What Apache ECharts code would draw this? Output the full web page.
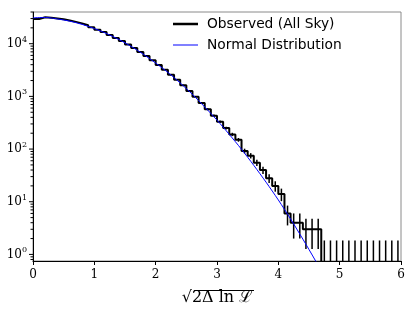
<!DOCTYPE html>
<html><head><meta charset="utf-8">
<script src="https://cdn.jsdelivr.net/npm/echarts@6/dist/echarts.min.js"></script>
<style>html,body{margin:0;padding:0;background:#fff}#c{width:415px;height:311px}</style>
</head><body><div id="c"></div>
<script>
// ---- data ----
const binWidth = 0.1;
const observedCounts = [
  29500, 31700, 31000, 30200, 29000, 27600, 26000, 24300, 22400, 20500,
  18500, 16600, 14700, 12900, 11250, 9700, 8250, 6980, 5830, 4830,
  3960, 3210, 2580, 2060, 1620, 1270, 985, 750, 570, 430,
  330, 250, 190, 150, 92, 75, 55, 40, 28, 20,
  14, 6, 4, 4, 3, 3, 3, 0, 0, 0,
  0, 0, 0, 0, 0, 0, 0, 0, 0, 0
];
const curveX = [0, 0.2, 0.4, 0.6, 0.8, 1.0, 1.2, 1.4, 1.6, 1.8, 2.0, 2.2, 2.4, 2.6, 2.8, 3.0, 3.2, 3.4, 3.6, 3.8, 4.0, 4.2, 4.4, 4.6, 4.8];
const curveY = [31000, 31500, 29500, 26800, 23300, 19400, 15600, 12000, 8900, 6300, 4300, 2850, 1800, 1090, 630, 355, 190, 99, 49, 23.5, 10.8, 4.7, 1.95, 0.78, 0.3];
const zeroUpper = 1.84;
const xTicks = [0, 1, 2, 3, 4, 5, 6];
const yMajor = [1, 10, 100, 1000, 10000];
const yMinor = [0.8, 0.9, 2,3,4,5,6,7,8,9, 20,30,40,50,60,70,80,90, 200,300,400,500,600,700,800,900,
  2000,3000,4000,5000,6000,7000,8000,9000, 20000,30000,40000];
const yMin = 0.75, yMax = 40000;

// ---- build ----
const floorVal = 1e-3;
const stepData = observedCounts.map((c, i) => [+(i * binWidth).toFixed(2), c > 0 ? c : floorVal]);
stepData.push([+(observedCounts.length * binWidth).toFixed(2), observedCounts[observedCounts.length - 1] || floorVal]);
const errData = observedCounts.map((c, i) => {
  const xc = +((i + 0.5) * binWidth).toFixed(3);
  if (c === 0) return [xc, 0, zeroUpper];
  const s = Math.sqrt(c);
  return [xc, c - s, c + s];
});
const tickData = yMajor.map(v => [v, 1]).concat(yMinor.map(v => [v, 0]));
const serif = "'DejaVu Serif', 'Liberation Serif', serif";
const sans = "'DejaVu Sans', 'Liberation Sans', sans-serif";

const chart = echarts.init(document.getElementById('c'), null, {renderer: 'canvas'});
chart.setOption({
  animation: false,
  grid: {left: 33, right: 14, top: 12, bottom: 49, show: true, borderColor: '#8a8a8a', borderWidth: 1, backgroundColor: 'transparent'},
  xAxis: {
    type: 'value', min: 0, max: 6, interval: 1,
    axisLine: {lineStyle: {color: '#000', width: 1}},
    axisTick: {show: true, length: 4, lineStyle: {color: '#000'}},
    splitLine: {show: false},
    axisLabel: {color: '#000', fontFamily: serif, fontSize: 12, margin: 8},
    name: '\u221A2\u0394 ln \u2112',
    nameLocation: 'middle', nameGap: 29,
    nameTextStyle: {color: '#000', fontFamily: serif, fontSize: 16}
  },
  yAxis: {
    type: 'log', logBase: 10, min: yMin, max: yMax,
    axisLine: {show: true, lineStyle: {color: '#000', width: 1}},
    axisTick: {show: false},
    splitLine: {show: false},
    axisLabel: {
      showMinLabel: false, showMaxLabel: false, margin: 6,
      formatter: v => {
        const n = Math.round(Math.log10(v));
        if (Math.abs(Math.log10(v) - n) > 1e-6) return '';
        return '{a|10}{b|' + n + '}';
      },
      rich: {
        a: {fontFamily: serif, fontSize: 12, color: '#000'},
        b: {fontFamily: serif, fontSize: 8, color: '#000', padding: [0, 0, 8, 0]}
      }
    }
  },
  graphic: [{
    type: 'line', silent: true,
    shape: {x1: 194, y1: 290.5, x2: 254, y2: 290.5},
    style: {stroke: '#000', lineWidth: 1}
  }],
  legend: [{
    data: ['Observed (All Sky)'], top: 17, left: 173, orient: 'vertical', padding: 0,
    itemWidth: 25, itemHeight: 2.5, icon: 'rect',
    textStyle: {fontFamily: sans, fontSize: 13.8, color: '#000', padding: [0, 0, 0, 4]}
  }, {
    data: ['Normal Distribution'], top: 38, left: 173, orient: 'vertical', padding: 0,
    itemWidth: 25, itemHeight: 1, icon: 'rect',
    textStyle: {fontFamily: sans, fontSize: 13.8, color: '#000', padding: [0, 0, 0, 4]}
  }],
  series: [
    {
      name: 'Observed (All Sky)', type: 'line', step: 'end', data: stepData,
      showSymbol: false, symbol: 'none', clip: true,
      lineStyle: {color: '#000', width: 2}, itemStyle: {color: '#000'}, z: 2
    },
    {
      name: 'errors', type: 'custom', data: errData, z: 2,
      encode: {x: 0, y: [1, 2]},
      renderItem: (params, api) => {
        const x = api.value(0), lo = api.value(1), hi = api.value(2);
        const top = api.coord([x, hi]);
        const bot = api.coord([x, lo > 0 ? lo : floorVal]);
        const cs = params.coordSys;
        const yb = Math.min(bot[1], cs.y + cs.height);
        const yt = Math.max(top[1], cs.y);
        return {type: 'line', shape: {x1: top[0], y1: yt, x2: top[0], y2: yb},
          style: {stroke: '#000', lineWidth: 1.5}};
      }
    },
    {
      name: 'Normal Distribution', type: 'line', data: curveX.map((x, i) => [x, curveY[i]]),
      showSymbol: false, symbol: 'none', smooth: 0.3, clip: true,
      lineStyle: {color: '#0000ff', width: 1}, itemStyle: {color: '#0000ff'}, z: 3
    },
    {
      name: 'yticks', type: 'custom', data: tickData, z: 4, silent: true,
      encode: {x: 1, y: 0},
      renderItem: (params, api) => {
        const v = api.value(0), major = api.value(1);
        const p = api.coord([0, v]);
        const len = major ? 4 : 2.5;
        return {type: 'line', shape: {x1: p[0] - len, y1: p[1], x2: p[0], y2: p[1]},
          style: {stroke: '#000', lineWidth: 1}};
      }
    }
  ]
});
</script></body></html>
